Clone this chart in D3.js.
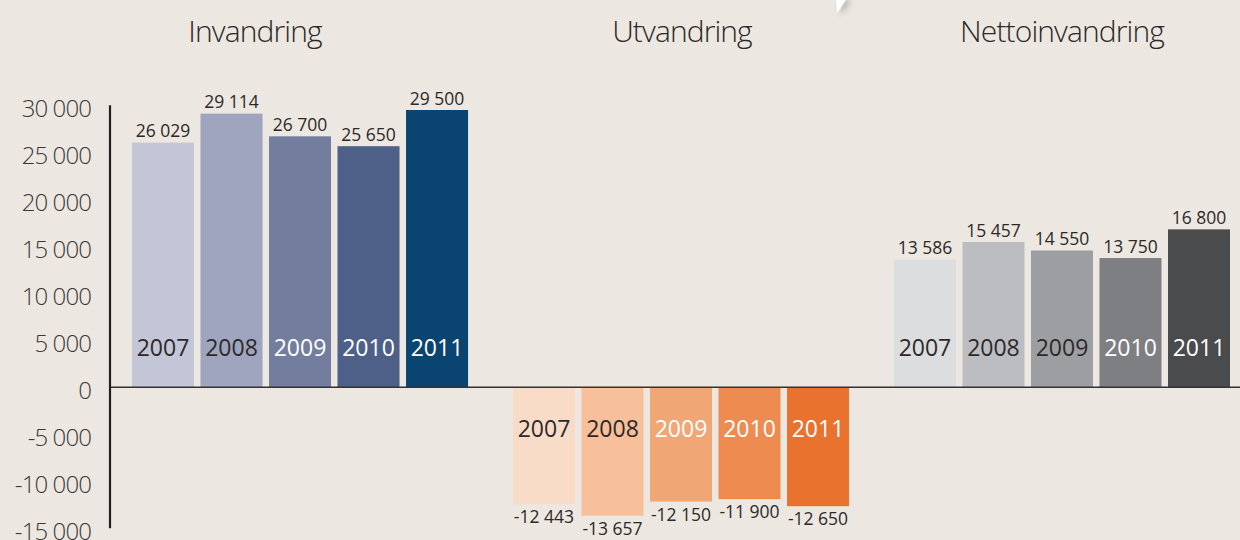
<!DOCTYPE html>
<html>
<head>
<meta charset="utf-8">
<script src="https://cdn.jsdelivr.net/npm/d3@7"></script>
<style>
  html, body { margin: 0; padding: 0; background: #ece7e1; }
  svg { display: block; }
  text { font-family: "Open Sans", sans-serif; }
</style>
</head>
<body>
<script>
// ---- data ----
const groups = ["Invandring", "Utvandring", "Nettoinvandring"];
const years = ["2007", "2008", "2009", "2010", "2011"];
const invandring = [26029, 29114, 26700, 25650, 29500];
const utvandring = [-12443, -13657, -12150, -11900, -12650];
const nettoinvandring = [13586, 15457, 14550, 13750, 16800];
const yTicks = [30000, 25000, 20000, 15000, 10000, 5000, 0, -5000, -10000, -15000];
const valueLabels = {
  Invandring: ["26 029", "29 114", "26 700", "25 650", "29 500"],
  Utvandring: ["-12 443", "-13 657", "-12 150", "-11 900", "-12 650"],
  Nettoinvandring: ["13 586", "15 457", "14 550", "13 750", "16 800"]
};
const seriesValues = { Invandring: invandring, Utvandring: utvandring, Nettoinvandring: nettoinvandring };

// ---- styles ----
const colors = {
  Invandring: ["#c3c6d7", "#a0a5bf", "#737e9e", "#4e5f88", "#0a4470"],
  Utvandring: ["#f9dcc8", "#f7bf9a", "#f1a676", "#ee8b51", "#ea722f"],
  Nettoinvandring: ["#dcddde", "#bcbdc0", "#9d9ea2", "#7e7f83", "#4a4b4d"]
};
const yearTextColors = {
  Invandring: ["#2b2a29", "#2b2a29", "#ffffff", "#ffffff", "#ffffff"],
  Utvandring: ["#2b2a29", "#2b2a29", "#ffffff", "#ffffff", "#ffffff"],
  Nettoinvandring: ["#2b2a29", "#2b2a29", "#2b2a29", "#ffffff", "#ffffff"]
};
const titleX = { Invandring: 255, Utvandring: 682, Nettoinvandring: 1062 };

const W = 1240, H = 540;
const svg = d3.select("body").append("svg").attr("width", W).attr("height", H);
svg.append("rect").attr("width", W).attr("height", H).attr("fill", "#ece7e1");

const y = d3.scaleLinear().domain([-15000, 30000]).range([528.3, 105.3]);
const x0 = d3.scaleBand().domain(groups).range([132, 1230]).paddingInner(0.118).paddingOuter(0);
const x1 = d3.scaleBand().domain(years).range([0, x0.bandwidth()]).paddingInner(0.095).paddingOuter(0);

// decoration wedge at top
const defs = svg.append("defs");
const f = defs.append("filter").attr("id", "sh").attr("x", "-100%").attr("y", "-100%").attr("width", "300%").attr("height", "300%");
f.append("feGaussianBlur").attr("in", "SourceAlpha").attr("stdDeviation", 3).attr("result", "b");
f.append("feOffset").attr("in", "b").attr("dx", 4).attr("dy", 2).attr("result", "o");
f.append("feComponentTransfer").attr("in", "o").attr("result", "o2")
  .append("feFuncA").attr("type", "linear").attr("slope", 0.25);
const fm = f.append("feMerge");
fm.append("feMergeNode").attr("in", "o2");
fm.append("feMergeNode").attr("in", "SourceGraphic");
svg.append("path").attr("d", "M836,-2 L847,-2 Q842,6 837,13 Z").attr("fill", "#ffffff").attr("filter", "url(#sh)");

// titles
svg.selectAll("text.title").data(groups).join("text")
  .attr("class", "title")
  .attr("x", d => titleX[d]).attr("y", 42)
  .attr("text-anchor", "middle")
  .attr("font-size", 30).attr("font-weight", 300).attr("letter-spacing", -0.9)
  .attr("fill", "#2b2a29")
  .text(d => d);

// y axis labels
const fmt = v => {
  const s = d3.format(",")(Math.abs(v)).replace(/,/g, " ");
  return (v < 0 ? "-" : "") + s;
};
svg.selectAll("text.ytick").data(yTicks).join("text")
  .attr("class", "ytick")
  .attr("x", 91).attr("y", d => y(d) + 11.5)
  .attr("text-anchor", "end")
  .attr("font-size", 24).attr("font-weight", 300).attr("letter-spacing", -0.9)
  .attr("fill", "#3a3938")
  .text(d => fmt(d));

// bars
const gGroups = svg.selectAll("g.grp").data(groups).join("g")
  .attr("class", "grp")
  .attr("transform", d => `translate(${x0(d)},0)`);

gGroups.each(function(g) {
  const sel = d3.select(this);
  const vals = seriesValues[g].map((v, i) => ({ year: years[i], v, i }));
  sel.selectAll("rect").data(vals).join("rect")
    .attr("x", d => x1(d.year))
    .attr("width", x1.bandwidth())
    .attr("y", d => Math.min(y(d.v), y(0)))
    .attr("height", d => Math.abs(y(d.v) - y(0)))
    .attr("fill", d => colors[g][d.i]);

  // value labels
  sel.selectAll("text.val").data(vals).join("text")
    .attr("class", "val")
    .attr("x", d => x1(d.year) + x1.bandwidth() / 2)
    .attr("y", d => d.v >= 0 ? y(d.v) - 5.5 : y(d.v) + 19)
    .attr("text-anchor", "middle")
    .attr("font-size", 17.5)
    .attr("fill", "#2b2a29")
    .text(d => valueLabels[g][d.i]);

  // year labels inside bars
  sel.selectAll("text.yr").data(vals).join("text")
    .attr("class", "yr")
    .attr("x", d => x1(d.year) + x1.bandwidth() / 2)
    .attr("y", d => d.v >= 0 ? y(0) - 31 : y(0) + 49.5)
    .attr("text-anchor", "middle")
    .attr("font-size", 23)
    .attr("fill", d => yearTextColors[g][d.i])
    .text(d => d.year);
});

// zero line and y axis line
svg.append("line").attr("x1", 110).attr("x2", W).attr("y1", y(0)).attr("y2", y(0))
  .attr("stroke", "#333231").attr("stroke-width", 1.6);
svg.append("line").attr("x1", 110).attr("x2", 110).attr("y1", y(30000)).attr("y2", y(-15000))
  .attr("stroke", "#231f20").attr("stroke-width", 2.2);
</script>
</body>
</html>
